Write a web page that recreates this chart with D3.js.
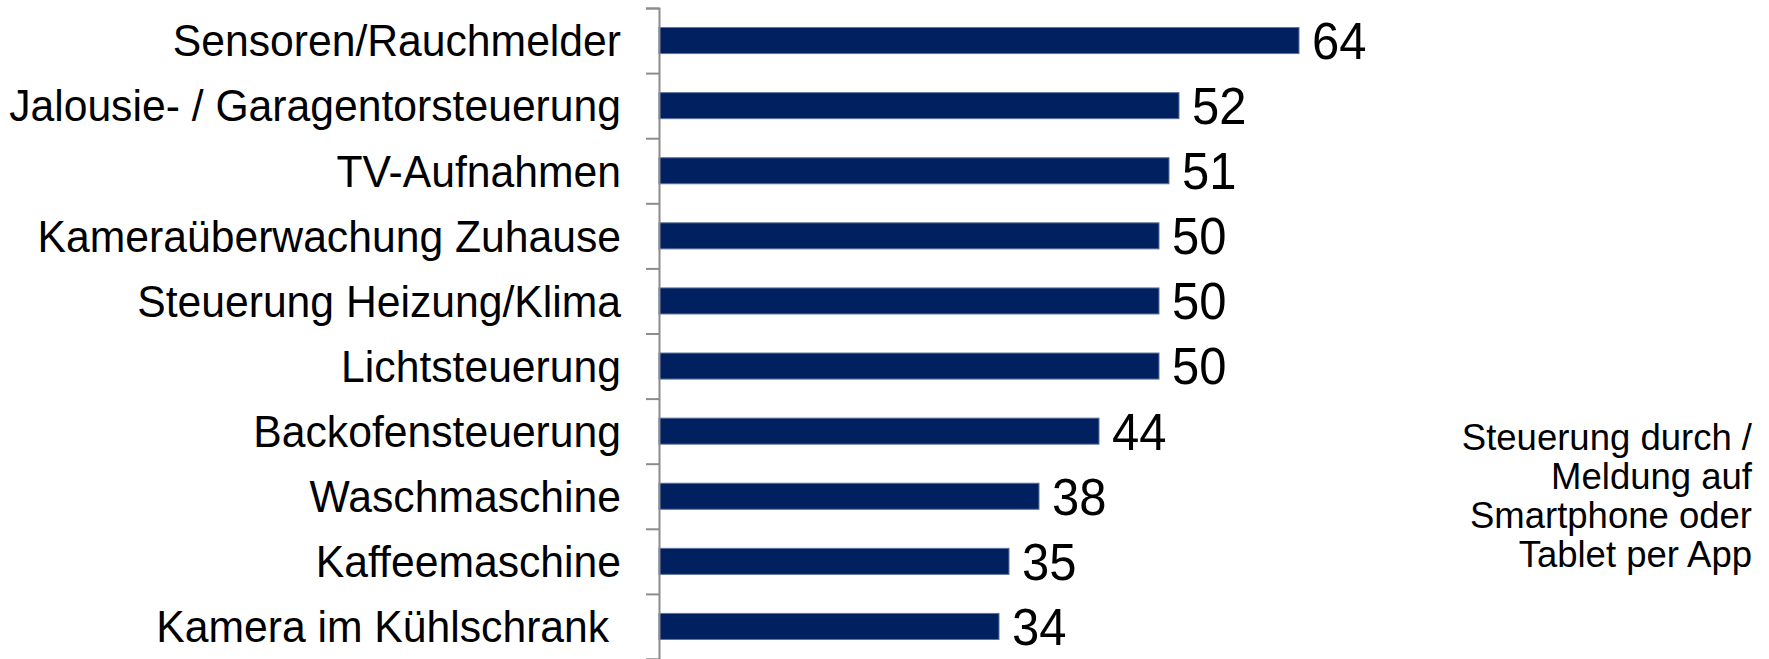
<!DOCTYPE html>
<html>
<head>
<meta charset="utf-8">
<script src="https://cdn.jsdelivr.net/npm/d3@7"></script>
<style>
  body { margin: 0; background: #fff; }
  text { font-family: "Liberation Sans", Arial, sans-serif; fill: #000; }
</style>
</head>
<body>
<script>
// Smart-Home Anwendungen, Werte in Prozent
var categories = [
  "Sensoren/Rauchmelder",
  "Jalousie- / Garagentorsteuerung",
  "TV-Aufnahmen",
  "Kameraüberwachung Zuhause",
  "Steuerung Heizung/Klima",
  "Lichtsteuerung",
  "Backofensteuerung",
  "Waschmaschine",
  "Kaffeemaschine",
  "Kamera im Kühlschrank "
];
var values = [64, 52, 51, 50, 50, 50, 44, 38, 35, 34];
var noteLines = ["Steuerung durch /", "Meldung auf", "Smartphone oder", "Tablet per App"];

var w = 1769;
var h = 659;
var axisX = 659;
var padTop = 8;

var svg = d3.select("body")
  .append("svg")
  .attr("width", w)
  .attr("height", h);

// x scale: 10px per percent point
var scaleX = d3.scaleLinear()
  .domain([0, 64])
  .range([axisX, axisX + 640]);

var scaleY = d3.scaleBand()
  .domain(categories)
  .range([padTop, h])
  .paddingInner(0.6)
  .paddingOuter(0.3);

// bars
svg.selectAll("rect.bar")
  .data(values)
  .enter()
  .append("rect")
  .attr("class", "bar")
  .attr("x", scaleX(0))
  .attr("y", function(d, i) { return scaleY(categories[i]); })
  .attr("width", function(d) { return scaleX(d) - scaleX(0); })
  .attr("height", scaleY.bandwidth())
  .attr("fill", "#002060")
  .attr("stroke", "#5d739e")
  .attr("stroke-width", 1);

// value labels (text in the original is a bit narrow, so squeeze it)
svg.selectAll("text.val")
  .data(values)
  .enter()
  .append("text")
  .attr("class", "val")
  .attr("transform", function(d, i) {
    return "translate(" + (scaleX(d) + 13) + "," + (scaleY(categories[i]) + scaleY.bandwidth() / 2) + ") scale(0.96,1)";
  })
  .attr("dy", "0.36em")
  .style("font-size", "51px")
  .text(function(d) { return d; });

// category labels
svg.selectAll("text.cat")
  .data(categories)
  .enter()
  .append("text")
  .attr("class", "cat")
  .attr("transform", function(d) {
    return "translate(621," + (scaleY(d) + scaleY.bandwidth() / 2) + ") scale(0.97,1)";
  })
  .attr("dy", "0.36em")
  .attr("text-anchor", "end")
  .style("font-size", "44px")
  .style("white-space", "pre")
  .text(function(d) { return d; });

// axis with ticks between the categories
var scaleTicks = d3.scaleLinear()
  .domain([0, categories.length])
  .range([padTop, h]);

var yAxis = d3.axisLeft(scaleTicks)
  .ticks(categories.length)
  .tickSize(13)
  .tickFormat("");

var g = svg.append("g")
  .attr("transform", "translate(" + axisX + ",0)")
  .call(yAxis);
g.select(".domain").attr("stroke", "#8c8c8c").attr("stroke-width", 2);
g.selectAll(".tick line").attr("stroke", "#8c8c8c").attr("stroke-width", 2);

// note on the right
svg.append("text")
  .attr("text-anchor", "end")
  .style("font-size", "36.5px")
  .selectAll("tspan")
  .data(noteLines)
  .enter()
  .append("tspan")
  .attr("x", 1752)
  .attr("y", function(d, i) { return 450 + i * 39; })
  .text(function(d) { return d; });
</script>
</body>
</html>
